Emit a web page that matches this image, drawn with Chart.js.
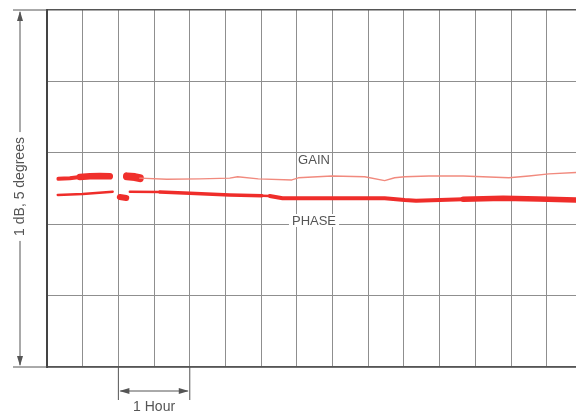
<!DOCTYPE html>
<html>
<head>
<meta charset="utf-8">
<script src="https://cdn.jsdelivr.net/npm/chart.js@4/dist/chart.umd.min.js"></script>
<style>
  html, body { margin: 0; padding: 0; background: #fff; overflow: hidden; }
  #wrap { width: 576px; height: 413px; }
</style>
</head>
<body>
<div id="wrap"><canvas id="recorder" width="576" height="413"></canvas></div>
<script>
// gain trace (hours, dB) - null = pen lifted
const gainHours = [0.16, 0.32, 0.46, 0.60, 0.74, 0.88, 0.98, 1.12, 1.23, 1.30, 1.68, 2.14, 2.56, 2.67, 2.96, 3.43, 3.52, 3.99, 4.45, 4.73, 4.87, 5.01, 5.35, 5.83, 6.47, 6.75, 7.03, 7.41];
const gainDb    = [0.527, 0.529, 0.532, 0.534, 0.535, 0.534, null, 0.534, 0.532, 0.529, 0.526, 0.527, 0.529, 0.533, 0.527, 0.524, 0.530, 0.535, 0.533, 0.522, 0.530, 0.533, 0.535, 0.535, 0.530, 0.535, 0.541, 0.545];

// phase trace (hours, degrees)
const phaseHours = [0.15, 0.50, 0.92, 0.95, 1.02, 1.11, 1.13, 1.16, 1.58, 2.00, 2.56, 3.01, 3.12, 3.30, 3.89, 4.73, 5.01, 5.17, 5.83, 6.39, 6.89, 7.41];
const phaseDeg   = [2.409, 2.423, 2.455, null, 2.381, 2.367, null, 2.455, 2.451, 2.433, 2.409, 2.399, 2.396, 2.363, 2.363, 2.363, 2.339, 2.329, 2.349, 2.363, 2.353, 2.339];

const scaleLabel = '1 dB, 5 degrees';
const timeLabel = '1 Hour';
const traceLabels = ['GAIN', 'PHASE'];

const toPoints = (xs, ys) => xs.map((x, i) => ({ x: x, y: ys[i] }));

// heavier pen where the trace smears
function gainWidth(ctx) {
  const x = ctx.p0.parsed.x;
  if (x < 0.45) return 4;
  if (x < 0.9) return 6.5;
  if (x >= 1.1 && x < 1.24) return 8;
  return 1.4;
}
function gainColor(ctx) {
  const x = ctx.p0.parsed.x;
  if (x < 0.9 || (x >= 1.1 && x < 1.24)) return '#f0302c';
  return '#f18a7e';
}
function phaseWidth(ctx) {
  const x = ctx.p0.parsed.x;
  if (x >= 1.0 && x < 1.12) return 6;
  if (x >= 5.8 && x < 6.9) return 5.5;
  if (x >= 1.5 && x < 2.6) return 3.4;
  if (x >= 3.1) return 4;
  return 2.4;
}

const overlay = {
  id: 'overlay',
  afterDraw(chart) {
    const c = chart.ctx;
    const area = chart.chartArea;
    const xs = chart.scales.x;
    const ax = 20;
    c.save();
    c.strokeStyle = '#555';
    c.fillStyle = '#555';
    c.lineWidth = 1;

    // extension lines at top and bottom of scale
    c.beginPath();
    c.moveTo(13, area.top); c.lineTo(area.left, area.top);
    c.moveTo(13, area.bottom); c.lineTo(area.left, area.bottom);
    c.stroke();

    // vertical full-scale arrow, broken by the label
    const mid = (area.top + area.bottom) / 2 - 2;
    c.font = '14px "Liberation Sans", Arial, sans-serif';
    const tw = c.measureText(scaleLabel).width;
    c.beginPath();
    c.moveTo(ax, area.top + 2); c.lineTo(ax, mid - tw / 2 - 5);
    c.moveTo(ax, mid + tw / 2 + 5); c.lineTo(ax, area.bottom - 2);
    c.stroke();
    c.beginPath();
    c.moveTo(ax, area.top + 1); c.lineTo(ax - 3, area.top + 11); c.lineTo(ax + 3, area.top + 11); c.closePath();
    c.moveTo(ax, area.bottom - 1); c.lineTo(ax - 3, area.bottom - 11); c.lineTo(ax + 3, area.bottom - 11); c.closePath();
    c.fill();
    c.save();
    c.translate(ax, mid);
    c.rotate(-Math.PI / 2);
    c.textAlign = 'center';
    c.textBaseline = 'middle';
    c.fillText(scaleLabel, 0, 0);
    c.restore();

    // 1 hour dimension
    const h0 = xs.getPixelForValue(1), h1 = xs.getPixelForValue(2);
    const ay = area.bottom + 24;
    c.beginPath();
    c.moveTo(h0, area.bottom); c.lineTo(h0, area.bottom + 33);
    c.moveTo(h1, area.bottom); c.lineTo(h1, area.bottom + 33);
    c.moveTo(h0 + 2, ay); c.lineTo(h1 - 2, ay);
    c.stroke();
    c.beginPath();
    c.moveTo(h0 + 1, ay); c.lineTo(h0 + 11, ay - 3); c.lineTo(h0 + 11, ay + 3); c.closePath();
    c.moveTo(h1 - 1, ay); c.lineTo(h1 - 11, ay - 3); c.lineTo(h1 - 11, ay + 3); c.closePath();
    c.fill();
    c.textAlign = 'center';
    c.textBaseline = 'middle';
    c.fillText(timeLabel, (h0 + h1) / 2, area.bottom + 40);

    // trace names
    const lx = xs.getPixelForValue(3.74);
    c.font = '13px "Liberation Sans", Arial, sans-serif';
    c.fillText(traceLabels[0], lx, 160);
    const pw = c.measureText(traceLabels[1]).width;
    c.fillStyle = '#fff';
    c.fillRect(lx - pw / 2 - 3, 214, pw + 6, 13);
    c.fillStyle = '#555';
    c.fillText(traceLabels[1], lx, 221);
    c.restore();
  }
};

new Chart(document.getElementById('recorder'), {
  type: 'line',
  data: {
    datasets: [
      {
        label: traceLabels[0],
        data: toPoints(gainHours, gainDb),
        yAxisID: 'y',
        borderColor: '#f18a7e',
        borderWidth: 1.4,
        borderCapStyle: 'round',
        borderJoinStyle: 'round',
        pointRadius: 0,
        spanGaps: false,
        segment: { borderWidth: gainWidth, borderColor: gainColor }
      },
      {
        label: traceLabels[1],
        data: toPoints(phaseHours, phaseDeg),
        yAxisID: 'y1',
        borderColor: '#ef2d2a',
        borderWidth: 2.4,
        borderCapStyle: 'round',
        borderJoinStyle: 'round',
        pointRadius: 0,
        spanGaps: false,
        segment: { borderWidth: phaseWidth }
      }
    ]
  },
  options: {
    responsive: false,
    animation: false,
    layout: { padding: { left: 47, top: 10, right: 0, bottom: 46 } },
    plugins: { legend: { display: false }, tooltip: { enabled: false } },
    scales: {
      x: {
        type: 'linear',
        min: 0,
        max: 7.41,
        ticks: { display: false, stepSize: 0.5, includeBounds: false },
        grid: { color: '#8f8f8f', lineWidth: 1, drawTicks: false },
        border: { color: '#555', width: 1.5 }
      },
      y: {
        min: 0,
        max: 1,
        ticks: { display: false, stepSize: 0.2 },
        grid: {
          color: (ctx) => (ctx.tick && ctx.tick.value === 1 ? '#555' : '#8f8f8f'),
          lineWidth: (ctx) => (ctx.tick && ctx.tick.value === 1 ? 1.5 : 1),
          drawTicks: false
        },
        border: { color: '#444', width: 2 }
      },
      y1: { display: false, min: 0, max: 5 }
    }
  },
  plugins: [overlay]
});
</script>
</body>
</html>
